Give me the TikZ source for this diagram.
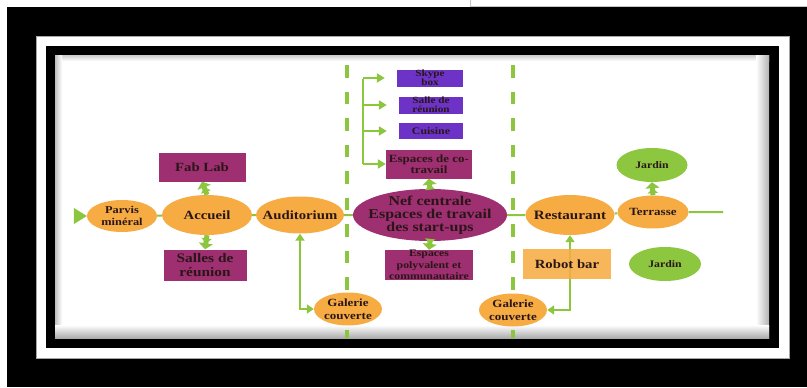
\documentclass[tikz,border=0pt]{standalone}
\usepackage{fontspec}
\setmainfont{Liberation Serif}[FakeStretch=1.18]
\usetikzlibrary{shapes.geometric,arrows.meta}
\pgfdeclarelayer{frame}
\pgfdeclarelayer{bg}
\pgfsetlayers{frame,bg,main}
\definecolor{cOr}{HTML}{F6AC43}
\definecolor{cMg}{HTML}{9E2F70}
\definecolor{cPu}{HTML}{6C33C6}
\definecolor{cGr}{HTML}{8CC63F}
\definecolor{cJa}{HTML}{8DC63F}
\definecolor{cTx}{HTML}{2A1618}
\newcommand\fz[2]{\fontsize{#1}{#2}\selectfont\bfseries}
\begin{document}
\begin{tikzpicture}[x=1pt,y=-1pt,
  base/.style={inner xsep=-60pt, inner ysep=-30pt, align=center, text=cTx},
  oval/.style={base, ellipse, fill=cOr},
  jard/.style={base, ellipse, fill=cJa},
  mbox/.style={base, rectangle, fill=cMg},
  pbox/.style={base, rectangle, fill=cPu},
  obox/.style={base, rectangle, fill=cOr},
  link/.style={draw=cGr, line width=2pt},
  fat/.style={draw=cGr, line width=5pt, -{Triangle[length=5pt,width=10pt] Triangle[length=6pt,width=14pt]}},
  garr/.style={draw=cGr, line width=2.5pt, {Triangle[length=7pt,width=9pt]}-{Triangle[length=7pt,width=9pt]}},
  brk/.style={draw=cGr, line width=2.5pt, -{Triangle[length=8pt,width=9pt]}},
  dsh/.style={draw=cGr, line width=4pt, dash pattern=on 12.5pt off 14pt}
]
\useasboundingbox (0,0) rectangle (807,388);
\begin{pgfonlayer}{frame}
  \fill[white] (0,0) rectangle (807,388);
  \draw[gray!45, line width=0.7pt] (470,6) -- (807,6) (470,0) -- (470,6);
  \fill[black] (7,7) rectangle (807,387);
  \fill[white, draw=gray!70, line width=0.6pt] (36,36) rectangle (789,358);
  \fill[black] (46,46) rectangle (779,348);
  \fill[white] (55,55) rectangle (769,338);
  \shade[top color=gray!40, bottom color=white] (55,55) rectangle (769,61);
  \shade[left color=gray!50, right color=white] (55,55) rectangle (62,338);
  \shade[left color=white, right color=gray!60] (756,55) rectangle (769,338);
  \shade[top color=white, bottom color=gray!65] (55,325) rectangle (769,338);
  \draw[dsh] (347,65) -- (347,338);
  \draw[dsh] (513,65) -- (513,338);
\end{pgfonlayer}

% left part
\node[oval, minimum width=70pt, minimum height=32pt, font=\fz{10.5}{11.5}] (parvis) at (122,216) {Parvis\\minéral};
\node[oval, minimum width=90pt, minimum height=40pt, font=\fz{12.5}{13}] (accueil) at (207,215) {Accueil};
\node[oval, minimum width=88pt, minimum height=37pt, font=\fz{12.5}{13}] (audit) at (300,215) {Auditorium};
\node[mbox, minimum width=87pt, minimum height=29pt, font=\fz{12.5}{13}] (fablab) at (202,167) {Fab Lab};
\node[mbox, minimum width=83pt, minimum height=31pt, font=\fz{13}{13.5}] (salles) at (205,265) {Salles de\\réunion};
\node[oval, minimum width=68pt, minimum height=33pt, font=\fz{11}{12.5}] (gal1) at (348,309) {Galerie\\couverte};

% centre
\node[pbox, minimum width=66pt, minimum height=17pt, font=\fz{9.5}{8.8}] (skype) at (430,78) {Skype\\box};
\node[pbox, minimum width=64pt, minimum height=17pt, font=\fz{9.5}{8.8}] (salle2) at (431,105) {Salle de\\réunion};
\node[pbox, minimum width=64pt, minimum height=16pt, font=\fz{10}{10}] (cuisine) at (431,131) {Cuisine};
\node[mbox, minimum width=86pt, minimum height=29pt, font=\fz{11}{10.5}] (cotrav) at (429,164) {Espaces de co-\\travail};
\node[base, ellipse, fill=cMg, minimum width=154pt, minimum height=52pt, font=\fz{13.5}{12.8}] (nef) at (430,215) {Nef centrale\\Espaces de travail\\des start-ups};
\node[mbox, minimum width=88pt, minimum height=30pt, font=\fz{10}{11.5}] (poly) at (429,265) {Espaces\\polyvalent et\\communautaire};

% right part
\node[oval, minimum width=89pt, minimum height=40pt, font=\fz{12.8}{13}] (resto) at (570,215) {Restaurant};
\node[oval, minimum width=71pt, minimum height=33pt, font=\fz{11}{11}] (terr) at (653,212) {Terrasse};
\node[jard, minimum width=71pt, minimum height=34pt, font=\fz{10}{11}] (jard1) at (652,165) {Jardin};
\node[jard, minimum width=72pt, minimum height=34pt, font=\fz{10}{11}] (jard2) at (665,264) {Jardin};
\node[obox, fill opacity=0.88, text opacity=1, minimum width=88pt, minimum height=30pt, font=\fz{12.5}{13}] (robot) at (567,264) {Robot bar};
\node[oval, minimum width=68pt, minimum height=33pt, font=\fz{11}{12.5}] (gal2) at (513,310) {Galerie\\couverte};

\coordinate (entry) at (74,216);
\coordinate (tend) at (723,212);
\coordinate (btop) at (363,79);

\begin{pgfonlayer}{bg}
  \draw[link] (parvis) -- (accueil) -- (audit) -- (nef) -- (resto) -- (terr) -- (tend);
  \draw[garr] (audit.south) |- (gal1.west);
  \draw[garr] (resto.south) |- (gal2.east);
\end{pgfonlayer}
\draw[draw=cGr, -{Triangle[length=13pt,width=16pt]}] (entry) -- (parvis.west);
\draw[fat] (accueil.north) -- (fablab.south);
\draw[fat] (accueil.south) -- (salles.north);
\draw[fat] (nef.north) -- (cotrav.south);
\draw[fat] (nef.south) -- (poly.north);
\draw[fat] (terr.north) -- (jard1.south);
\draw[draw=cGr, line width=2.5pt] (btop) -- (btop |- cotrav.west);
\draw[brk, shorten >=12pt] (btop |- skype.west) -- (skype.west);
\draw[brk, shorten >=12pt] (btop |- salle2.west) -- (salle2.west);
\draw[brk, shorten >=12pt] (btop |- cuisine.west) -- (cuisine.west);
\draw[brk] (btop |- cotrav.west) -- (cotrav.west);
\end{tikzpicture}
\end{document}
